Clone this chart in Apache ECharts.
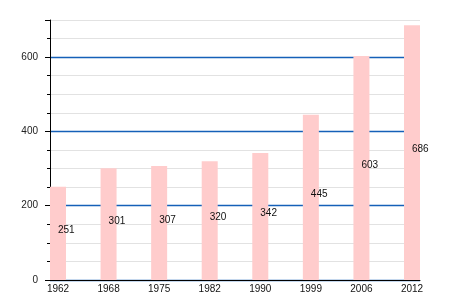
<!DOCTYPE html>
<html><head><meta charset="utf-8">
<script src="https://cdn.jsdelivr.net/npm/echarts@6/dist/echarts.min.js"></script>
<style>html,body{margin:0;padding:0;background:#fff}#c{width:450px;height:300px}</style>
</head><body><div id="c"></div>
<script>
const categories = ['1962','1968','1975','1982','1990','1999','2006','2012'];
const values = [251,301,307,320,342,445,603,686];
const yMax = 700;

const chart = echarts.init(document.getElementById('c'), null, {renderer:'canvas'});
const font = 'Liberation Sans, Arial, sans-serif';
chart.setOption({
  animation: false,
  grid: [
    {left: 50, right: 30, top: 20, bottom: 20},
    {left: 58, right: 38, top: 20, bottom: 20}
  ],
  xAxis: [
    {gridIndex: 0, type: 'value', min: 0, max: 1,
     axisLine: {show: true, lineStyle: {color: '#000', width: 1}},
     axisTick: {show: false}, axisLabel: {show: false}, splitLine: {show: false}},
    {gridIndex: 1, type: 'category', data: categories, boundaryGap: false,
     axisLine: {show: false}, axisTick: {show: false}, splitLine: {show: false},
     axisLabel: {color: '#111', fontSize: 10, fontFamily: font, margin: 4, interval: 0}}
  ],
  yAxis: [
    {gridIndex: 0, type: 'value', position: 'left', min: 0, max: yMax, interval: 50,
     axisLine: {show: true, lineStyle: {color: '#000', width: 1}},
     axisTick: {show: true, length: 3, lineStyle: {color: '#000'}},
     axisLabel: {show: true, color: '#222', fontSize: 10, fontFamily: font, margin: 12,
       formatter: v => (v % 200 === 0 && v < yMax) ? String(v) : ''},
     splitLine: {show: true, lineStyle: {color: ['rgba(0,0,0,0)','#e2e2e2','#e2e2e2','#e2e2e2'], width: 1, type: 'solid'}}},
    {gridIndex: 0, type: 'value', position: 'left', offset: 0, min: 0, max: yMax, interval: 200,
     axisLine: {show: false},
     axisTick: {show: true, length: 5, lineStyle: {color: '#000'}},
     axisLabel: {show: false},
     splitLine: {show: true, showMaxLine: false, lineStyle: {color: '#1560b8', width: 1.3, type: 'solid', opacity: 1}}},
    {gridIndex: 1, type: 'value', min: 0, max: yMax, show: false, splitLine: {show: false}}
  ],
  series: [{
    type: 'bar', xAxisIndex: 1, yAxisIndex: 2, data: values, barWidth: 16,
    itemStyle: {color: '#ffcccc'},
    label: {show: true, position: 'inside', align: 'left', offset: [0, -3],
      color: '#111', fontSize: 10, fontFamily: font}
  }]
});
</script></body></html>
